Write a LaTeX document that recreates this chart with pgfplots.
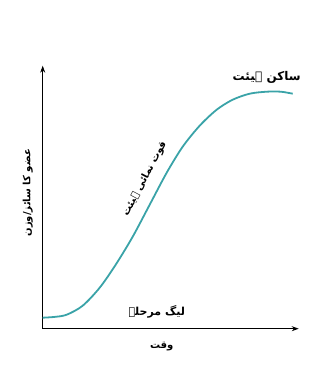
\documentclass[border=0pt]{standalone}
\usepackage{fontspec}
\usepackage{pgfplots}
\pgfplotsset{compat=1.18}
\usetikzlibrary{arrows.meta}
\TeXXeTstate=1
\newfontfamily\arabicfont[Script=Arabic]{DejaVu Sans}
\definecolor{curveteal}{HTML}{3AA3A8}
\begin{document}
\begin{tikzpicture}[x=1pt,y=1pt]
\useasboundingbox (0,0) rectangle (328,370);
\begin{axis}[
  at={(42.7pt,41.3pt)}, anchor=origin,
  x=1pt, y=1pt,
  xmin=0, xmax=256, ymin=0, ymax=263,
  axis lines=left,
  axis line style={-{Stealth[length=7pt,width=5pt]}, line width=0.9pt},
  ticks=none,
  clip=false,
]
\addplot[curveteal, line width=1.8pt, smooth, tension=0.5] coordinates {
  (0,11) (12,11.8) (24,14) (40,23) (57,41) (73,64) (90,92) (107,124) (124,156)
  (140,182) (157,203) (174,219) (190,229) (207,235) (224,237) (238,237) (250,235)
};
\node[font=\arabicfont\bfseries\fontsize{12}{14}\selectfont] at (axis cs:224,251) {\beginR ساکن ہیئت\endR};
\node[font=\arabicfont\bfseries\fontsize{11}{13}\selectfont] at (axis cs:114,17) {\beginR لیگ مرحلہ\endR};
\node[font=\arabicfont\bfseries\fontsize{10}{12}\selectfont] at (axis cs:119,-18) {\beginR وقت\endR};
\node[font=\arabicfont\bfseries\fontsize{10}{12}\selectfont, rotate=90] at (axis cs:-15,136) {\beginR عضو کا سائز/وزن\endR};
\node[font=\arabicfont\bfseries\fontsize{10}{12}\selectfont, rotate=62] at (axis cs:102,150) {\beginR قوت نمائی ہیئت\endR};
\end{axis}
\end{tikzpicture}
\end{document}
